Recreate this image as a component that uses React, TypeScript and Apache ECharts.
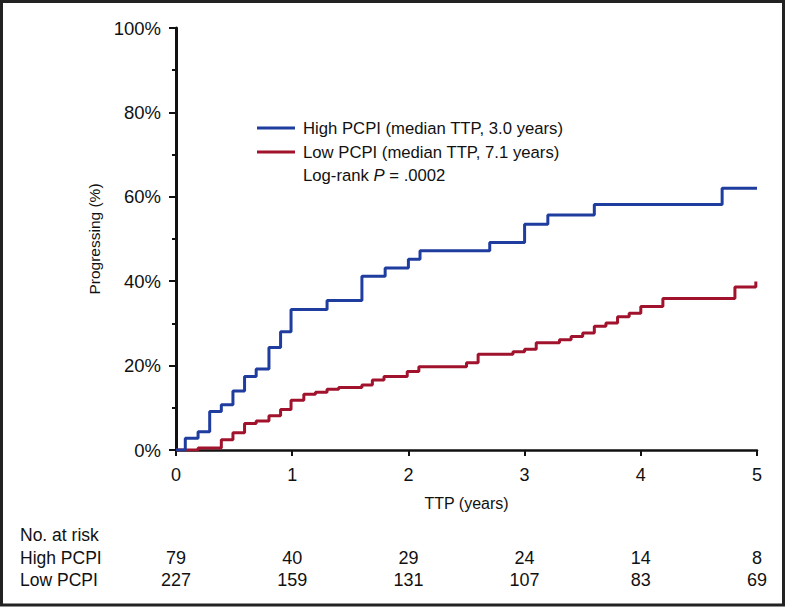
import React, { useEffect, useRef } from "react";
import * as echarts from "echarts";

// Kaplan-Meier step points (time in years, cumulative % progressing)
const highTimes = [0, 0.08, 0.19, 0.29, 0.39, 0.49, 0.59, 0.69, 0.8, 0.9, 0.99, 1.3, 1.6, 1.8, 2.0, 2.1, 2.7, 3.0, 3.2, 3.6, 4.7, 5.0];
const highValues = [0, 2.8, 4.3, 9.1, 10.7, 14.0, 17.4, 19.2, 24.3, 28.0, 33.3, 35.4, 41.2, 43.1, 45.2, 47.2, 49.2, 53.5, 55.7, 58.2, 62.0, 62.0];

const lowTimes = [0, 0.19, 0.39, 0.49, 0.59, 0.69, 0.8, 0.9, 0.99, 1.1, 1.2, 1.3, 1.4, 1.6, 1.69, 1.79, 1.99, 2.09, 2.5, 2.6, 2.9, 3.0, 3.1, 3.3, 3.4, 3.5, 3.6, 3.7, 3.8, 3.9, 4.0, 4.19, 4.81, 4.99];
const lowValues = [0, 0.5, 2.4, 4.1, 6.3, 6.9, 8.1, 9.6, 11.8, 13.2, 13.7, 14.4, 14.8, 15.4, 16.6, 17.4, 18.6, 19.7, 20.7, 22.7, 23.3, 23.9, 25.4, 26.1, 26.9, 27.7, 29.3, 30.1, 31.6, 32.4, 34.0, 35.9, 38.6, 39.9];

const riskTimes = [0, 1, 2, 3, 4, 5];
const highRisk = [79, 40, 29, 24, 14, 8];
const lowRisk = [227, 159, 131, 107, 83, 69];

const highLabel = "High PCPI (median TTP, 3.0 years)";
const lowLabel = "Low PCPI (median TTP, 7.1 years)";
const pLabel = "Log-rank {i|P} = .0002";
const riskRowLabels = ["No. at risk", "High PCPI", "Low PCPI"];

const BLUE = "#1f3c9f";
const RED = "#a1122d";
const INK = "#111111";
const FONT = "'Liberation Sans', Arial, Helvetica, sans-serif";

export default function App() {
  const ref = useRef<HTMLDivElement>(null);

  useEffect(() => {
    if (!ref.current) return;
    const chart = echarts.init(ref.current, undefined, { renderer: "svg" });

    const riskAxis = (offset: number, values: number[]) => ({
      type: "value",
      gridIndex: 0,
      position: "bottom",
      min: 0,
      max: 5,
      interval: 1,
      offset,
      axisLine: { show: false },
      axisTick: { show: false },
      splitLine: { show: false },
      axisLabel: {
        margin: 8,
        fontSize: 18,
        color: INK,
        fontFamily: FONT,
        formatter: (v: number) => {
          const i = riskTimes.indexOf(v);
          return i >= 0 ? String(values[i]) : "";
        },
      },
    });

    chart.setOption({
      animation: false,
      backgroundColor: "#ffffff",
      grid: { left: 176, right: 30, top: 28, bottom: 157, containLabel: false },
      xAxis: [
        {
          type: "value",
          min: 0,
          max: 5,
          interval: 1,
          axisLine: { show: true, onZero: false, lineStyle: { color: INK, width: 2.5 } },
          axisTick: { show: true, length: 6, lineStyle: { color: INK, width: 2 } },
          splitLine: { show: false },
          axisLabel: { margin: 16, fontSize: 18, color: INK, fontFamily: FONT },
          name: "TTP (years)",
          nameLocation: "middle",
          nameGap: 45,
          nameTextStyle: { fontSize: 16, color: INK, fontFamily: FONT },
        },
        riskAxis(91, highRisk),
        riskAxis(113, lowRisk),
      ],
      yAxis: {
        type: "value",
        min: 0,
        max: 100,
        interval: 20,
        axisLine: { show: true, lineStyle: { color: INK, width: 3 } },
        axisTick: { show: true, length: 7, lineStyle: { color: INK, width: 2 } },
        minorTick: { show: true, splitNumber: 2, length: 4, lineStyle: { color: INK, width: 2 } },
        splitLine: { show: false },
        minorSplitLine: { show: false },
        axisLabel: { margin: 15, fontSize: 18.5, color: INK, fontFamily: FONT, formatter: "{value}%" },
        name: "Progressing (%)",
        nameLocation: "middle",
        nameGap: 74,
        nameTextStyle: { fontSize: 15.5, color: INK, fontFamily: FONT },
      },
      series: [
        {
          name: "Low PCPI",
          type: "line",
          step: "end",
          showSymbol: false,
          xAxisIndex: 0,
          data: lowTimes.map((t, i) => [t, lowValues[i]]),
          lineStyle: { color: RED, width: 3 },
          itemStyle: { color: RED },
          z: 3,
        },
        {
          name: "High PCPI",
          type: "line",
          step: "end",
          showSymbol: false,
          xAxisIndex: 0,
          data: highTimes.map((t, i) => [t, highValues[i]]),
          lineStyle: { color: BLUE, width: 3 },
          itemStyle: { color: BLUE },
          z: 4,
        },
      ],
      graphic: [
        {
          type: "rect",
          shape: { x: 1.5, y: 1.5, width: 782, height: 603.5 },
          style: { fill: "none", stroke: "#222222", lineWidth: 3 },
          silent: true,
        },
        {
          type: "line",
          shape: { x1: 257, y1: 128, x2: 295, y2: 128 },
          style: { stroke: BLUE, lineWidth: 3 },
        },
        {
          type: "text",
          x: 303,
          y: 128,
          style: { text: highLabel, fontSize: 16.7, fill: INK, fontFamily: FONT, verticalAlign: "middle" },
        },
        {
          type: "line",
          shape: { x1: 257, y1: 152, x2: 295, y2: 152 },
          style: { stroke: RED, lineWidth: 3 },
        },
        {
          type: "text",
          x: 303,
          y: 152,
          style: { text: lowLabel, fontSize: 16.7, fill: INK, fontFamily: FONT, verticalAlign: "middle" },
        },
        {
          type: "text",
          x: 303,
          y: 175,
          style: {
            text: pLabel,
            fontSize: 16.7,
            fill: INK,
            fontFamily: FONT,
            verticalAlign: "middle",
            rich: { i: { fontStyle: "italic", fontSize: 16.7, fontFamily: FONT, fill: INK } },
          },
        },
        ...riskRowLabels.map((label, i) => ({
          type: "text",
          x: 20,
          y: [535, 558, 580][i],
          style: { text: label, fontSize: 17.5, fill: INK, fontFamily: FONT, verticalAlign: "middle" },
        })),
      ],
    });

    return () => chart.dispose();
  }, []);

  return (
    <div
      ref={ref}
      style={{ position: "absolute", left: 0, top: 0, width: 787, height: 607, background: "#fff" }}
    />
  );
}
